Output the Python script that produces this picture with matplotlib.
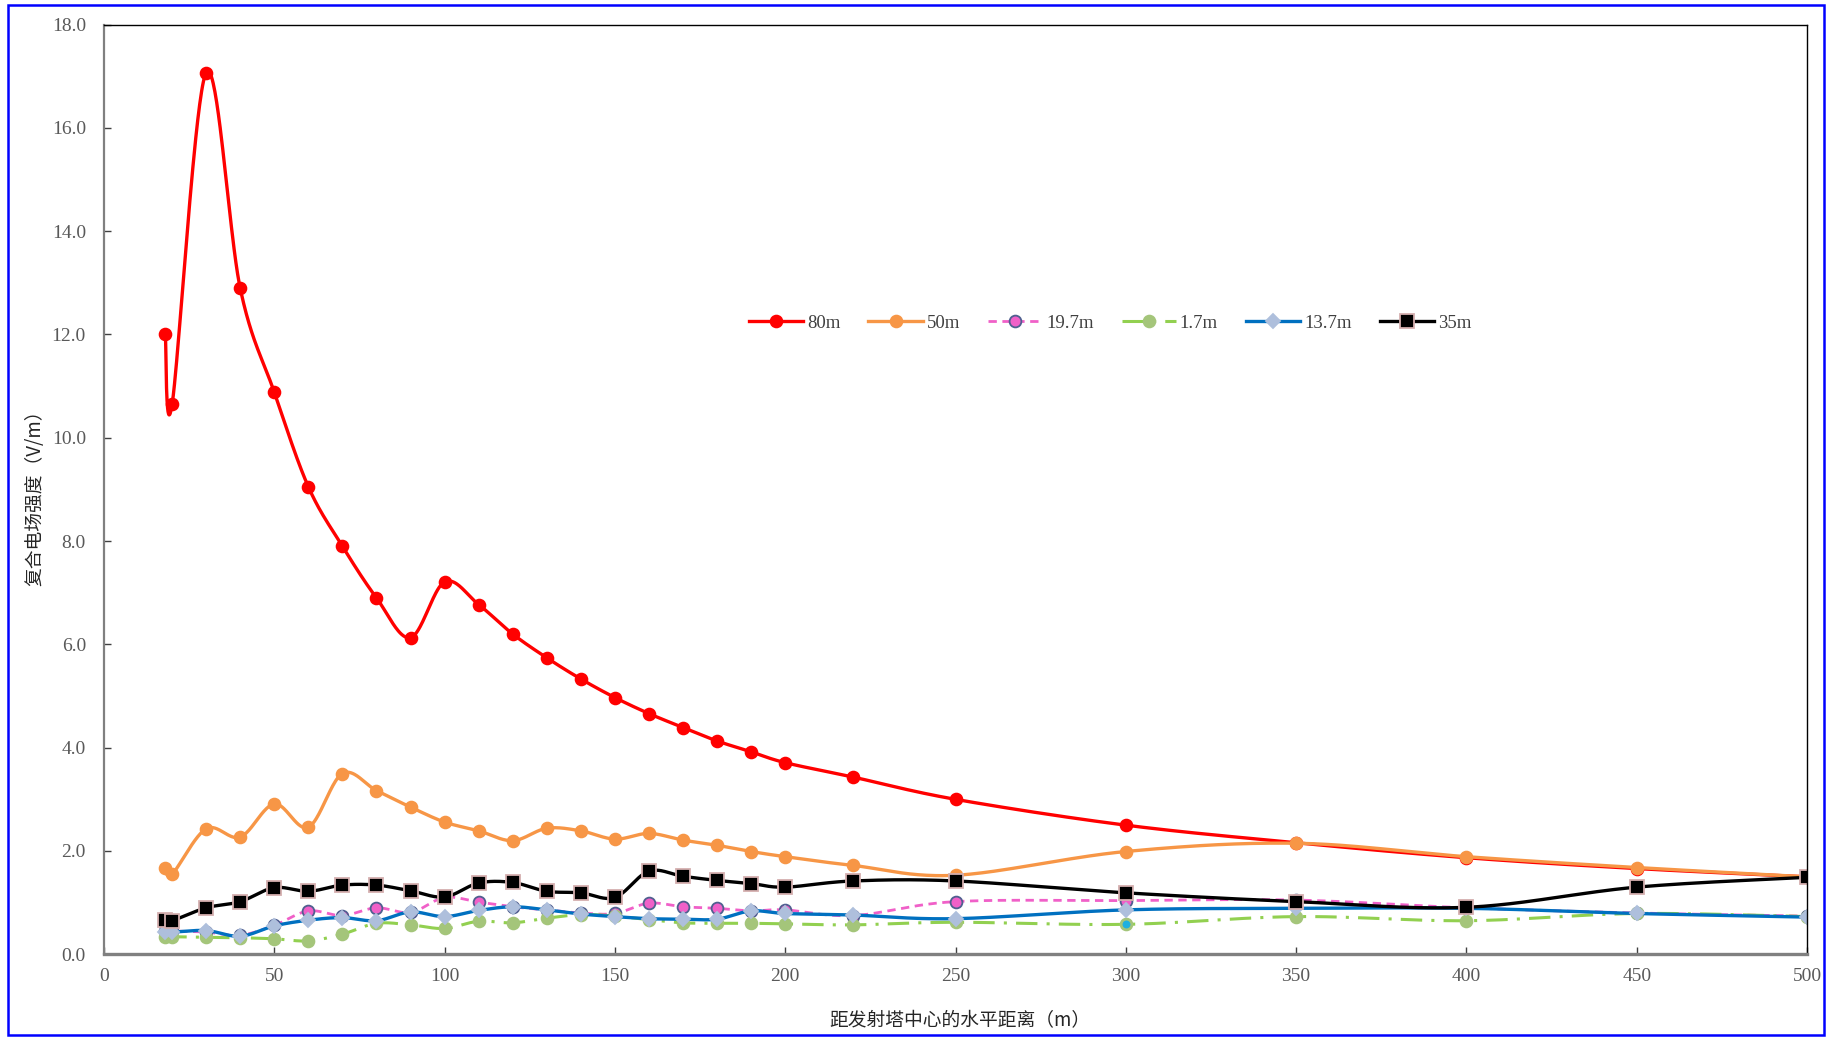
import numpy as np
import matplotlib
matplotlib.use("Agg")
import matplotlib.pyplot as plt
from matplotlib.lines import Line2D
from matplotlib.patches import Rectangle

# ---------------- data ----------------
distance_m = [18, 20, 30, 40, 50, 60, 70, 80, 90, 100, 110, 120, 130, 140, 150,
              160, 170, 180, 190, 200, 220, 250, 300, 350, 400, 450, 500]

e_80m = [12.01, 10.65, 17.07, 12.89, 10.88, 9.05, 7.90, 6.90, 6.13, 7.21, 6.77, 6.20,
         5.74, 5.33, 4.97, 4.66, 4.39, 4.13, 3.92, 3.71, 3.43, 3.00, 2.50, 2.16,
         1.87, 1.66, 1.50]
e_50m = [1.68, 1.55, 2.43, 2.27, 2.91, 2.46, 3.50, 3.17, 2.85, 2.56, 2.39, 2.20,
         2.44, 2.39, 2.23, 2.34, 2.21, 2.11, 1.99, 1.89, 1.72, 1.53, 1.99, 2.15,
         1.89, 1.68, 1.50]
e_19_7m = [0.46, 0.45, 0.43, 0.37, 0.56, 0.84, 0.75, 0.90, 0.81, 1.10, 1.01, 0.92,
           0.86, 0.80, 0.79, 0.99, 0.92, 0.89, 0.84, 0.86, 0.75, 1.02, 1.04, 1.05,
           0.90, 0.80, 0.74]
e_1_7m = [0.34, 0.34, 0.33, 0.32, 0.30, 0.26, 0.39, 0.60, 0.57, 0.50, 0.64, 0.61,
          0.70, 0.77, 0.74, 0.67, 0.61, 0.60, 0.60, 0.59, 0.57, 0.62, 0.58, 0.73,
          0.65, 0.79, 0.73]
e_13_7m = [0.44, 0.43, 0.46, 0.35, 0.55, 0.66, 0.71, 0.65, 0.82, 0.73, 0.85, 0.92,
           0.86, 0.78, 0.73, 0.69, 0.68, 0.68, 0.84, 0.79, 0.76, 0.69, 0.86, 0.89,
           0.89, 0.79, 0.72]
e_35m = [0.66, 0.65, 0.90, 1.02, 1.29, 1.22, 1.34, 1.34, 1.23, 1.11, 1.38, 1.39,
         1.22, 1.19, 1.10, 1.61, 1.51, 1.43, 1.37, 1.30, 1.42, 1.42, 1.19, 1.02,
         0.91, 1.30, 1.49]

series_labels = ["80m", "50m", "19.7m", "1.7m", "13.7m", "35m"]
x_ticks = [0, 50, 100, 150, 200, 250, 300, 350, 400, 450, 500]
y_ticks = [0, 2, 4, 6, 8, 10, 12, 14, 16, 18]
x_label = "距发射塔中心的水平距离（m）"
y_label = "复合电场强度（V/m）"


def smooth(xs, ys, n=40):
    """Excel-like smoothed line (Catmull-Rom as cubic Bezier)."""
    P = np.column_stack([xs, ys]).astype(float)
    out = [P[0]]
    t = np.linspace(0, 1, n)[1:, None]
    for i in range(len(P) - 1):
        p0 = P[i - 1] if i > 0 else P[i]
        p1, p2 = P[i], P[i + 1]
        p3 = P[i + 2] if i + 2 < len(P) else P[i + 1]
        c1 = p1 + (p2 - p0) / 6.0
        c2 = p2 - (p3 - p1) / 6.0
        seg = ((1 - t) ** 3) * p1 + 3 * ((1 - t) ** 2) * t * c1 + 3 * (1 - t) * t ** 2 * c2 + t ** 3 * p2
        out.extend(seg)
    return np.array(out)


W, H = 1832, 1040
fig = plt.figure(figsize=(W / 100, H / 100), dpi=100)
fig.patch.set_facecolor("white")
ax = fig.add_axes([104 / W, (H - 954.3) / H, (1807 - 104) / W, (954.3 - 24.5) / H])

styles = [
    dict(data=e_80m, color="#FF0000", ls="-", lw=2.4, marker="o", ms=8.5, mfc="#FF0000", mec="#FF0000"),
    dict(data=e_50m, color="#F79646", ls="-", lw=2.4, marker="o", ms=8.5, mfc="#F79646", mec="#F79646"),
    dict(data=e_19_7m, color="#F060C8", ls=(0, (3, 2)), lw=2.0, marker="o", ms=8.5, mfc="#F060C8", mec="#4F5F8F"),
    dict(data=e_1_7m, color="#92D050", ls=(0, (7, 3, 1, 3)), lw=2.2, marker="o", ms=8.5, mfc="#A4C57A", mec="#A4C57A"),
    dict(data=e_13_7m, color="#0070C0", ls="-", lw=2.4, marker="D", ms=7.5, mfc="#AEBFDC", mec="#AEBFDC"),
    dict(data=e_35m, color="#000000", ls="-", lw=2.4, marker="s", ms=9.5, mfc="#000000", mec="#D4AFAF"),
]

handles = []
for lab, s in zip(series_labels, styles):
    curve = smooth(distance_m, s["data"])
    ax.plot(curve[:, 0], curve[:, 1], color=s["color"], ls=s["ls"], lw=s["lw"],
            solid_capstyle="round", dash_capstyle="butt")
    ax.plot(distance_m, s["data"], ls="none", marker=s["marker"], ms=s["ms"],
            mfc=s["mfc"], mec=s["mec"], mew=1.3)
    handles.append(Line2D([], [], color=s["color"], ls=s["ls"], lw=s["lw"],
                          marker=s["marker"], ms=s["ms"], mfc=s["mfc"], mec=s["mec"],
                          mew=1.3, label=lab))

# single cyan marker on the 1.7m series at 300 m
idx300 = distance_m.index(300)
ax.plot([distance_m[idx300]], [e_1_7m[idx300]], ls="none", marker="o", ms=7,
        mfc="#1FB0E0", mec="#A4C57A", mew=1.3)

ax.set_xlim(0, 500)
ax.set_ylim(0, 18)
ax.tick_params(axis="both", direction="in", length=5, width=1, color="#404040",
               labelsize=14, labelcolor="#595959")
ax.tick_params(axis="y", pad=13)
ax.tick_params(axis="x", pad=10)
ax.tick_params(top=False, right=False)
tick_font = {"family": "Liberation Serif", "size": 14, "color": "#595959"}
ax.set_xticks(x_ticks)
ax.set_yticks(y_ticks)
ax.set_yticklabels([f"{v:.1f}" for v in y_ticks], fontdict=tick_font)
ax.set_xticklabels([str(v) for v in x_ticks], fontdict=tick_font)

ax.spines["left"].set_color("#808080")
ax.spines["left"].set_linewidth(1.6)
ax.spines["bottom"].set_color("#808080")
ax.spines["bottom"].set_linewidth(2.4)
ax.spines["top"].set_color("#000000")
ax.spines["top"].set_linewidth(1.0)
ax.spines["right"].set_color("#000000")
ax.spines["right"].set_linewidth(1.0)

cjk = ["Noto Sans CJK SC", "DejaVu Sans"]
fig.text(35 / W, (H - 493) / H, y_label, rotation=90, ha="center", va="center",
         fontsize=13.5, family=cjk, color="#262626")
fig.text(960 / W, (H - 1021) / H, x_label, ha="center", va="center",
         fontsize=13.5, family=cjk, color="#262626")

leg = fig.legend(handles=handles, loc="center", bbox_to_anchor=(1110 / W, (H - 323) / H),
                 bbox_transform=fig.transFigure, ncol=6, frameon=False,
                 handlelength=2.9, handletextpad=0.2, columnspacing=1.5,
                 prop={"family": "Liberation Serif", "size": 13.5})
for t in leg.get_texts():
    t.set_color("#404040")

# blue outer frame
fig.patches.append(Rectangle((8 / W, 5 / H), (1824 - 8) / W, (1035 - 5) / H,
                             transform=fig.transFigure, fill=False,
                             edgecolor="#0000FF", linewidth=1.8, zorder=10))

fig.savefig("out.png", dpi=100)
